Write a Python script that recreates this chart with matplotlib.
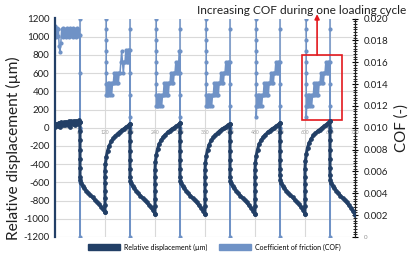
import matplotlib
matplotlib.use("Agg")
import matplotlib.pyplot as plt
from matplotlib.patches import Patch, Rectangle
from matplotlib.ticker import FixedLocator, MultipleLocator

# ---------------- data ----------------
time_ticks = [60, 120, 180, 240, 300, 360, 420, 480, 540, 600, 660, 720]
disp_ticks = [-1200, -1000, -800, -600, -400, -200, 0, 200, 400, 600, 800, 1000, 1200]
cof_ticks = [0, 0.002, 0.004, 0.006, 0.008, 0.010, 0.012, 0.014, 0.016, 0.018, 0.020]
cof_tick_labels = ["0", "0.002", "0.004", "0.006", "0.008", "0.010",
                   "0.012", "0.014", "0.016", "0.018", "0.020"]

# relative displacement (um)
flat_t = [0, 3, 6, 9, 12, 15, 18, 21, 24, 27, 30, 33, 36, 39, 42, 45, 48, 51, 54, 57, 60]
flat_d = [10, 45, 20, 55, 5, 60, 30, 60, 25, 65, 35, 70, 10, 70, 40, 75, 30, 75, 45, 80, 65]

edge_t = [0, 0, 0, 0, 0, 0, 0, 1, 3, 6, 10, 15, 20, 25, 30, 35, 40, 45, 50, 55, 60]

decay_starts = [60, 180, 300, 420, 540, 660]
decay_d = [
    [65, -40, -140, -240, -340, -440, -540, -575, -605, -635, -660, -690, -715, -740, -765, -790, -815, -840, -865, -895, -925],
    [45, -50, -150, -250, -350, -450, -545, -580, -610, -640, -665, -695, -720, -745, -770, -795, -820, -845, -875, -905, -945],
    [50, -50, -150, -250, -350, -450, -540, -580, -610, -640, -665, -695, -720, -745, -770, -795, -820, -850, -880, -910, -950],
    [45, -50, -150, -250, -350, -450, -540, -580, -610, -640, -665, -695, -720, -745, -770, -795, -820, -850, -880, -910, -950],
    [50, -50, -150, -250, -350, -450, -520, -570, -605, -635, -660, -690, -715, -740, -765, -790, -815, -840, -870, -900, -945],
    [70, -40, -140, -240, -340, -440, -520, -575, -605, -635, -660, -690, -715, -745, -770, -795, -820, -850, -880, -915, -955],
]

rise_starts = [120, 240, 360, 480, 600]
rise_d = [
    [-925, -850, -770, -690, -610, -540, -470, -400, -320, -255, -200, -150, -115, -88, -65, -45, -28, -12, 5, 22, 45],
    [-945, -860, -780, -700, -620, -540, -460, -380, -300, -235, -180, -135, -100, -75, -52, -33, -15, 0, 15, 30, 50],
    [-950, -860, -780, -700, -620, -540, -465, -390, -310, -245, -185, -140, -105, -78, -55, -35, -18, -3, 12, 28, 45],
    [-950, -860, -780, -700, -620, -540, -460, -385, -305, -240, -180, -135, -100, -75, -52, -33, -15, 0, 15, 32, 50],
    [-945, -860, -780, -700, -620, -540, -450, -370, -290, -220, -165, -120, -85, -60, -38, -20, -2, 15, 32, 50, 70],
]

# coefficient of friction (-)
cof0_t = [0, 0, 0, 2, 4, 6, 8, 10, 12, 14, 16, 18, 20, 22, 24, 26, 28, 30, 32,
          34, 36, 38, 40, 42, 44, 46, 48, 50, 52, 54, 56, 58]
cof0_v = [0.0215, 0.0204, 0.0193, 0.0183, 0.0191, 0.0184, 0.0190, 0.0175, 0.0169,
          0.0178, 0.0190, 0.0183, 0.0191, 0.0184, 0.0190, 0.0183, 0.0191, 0.0184,
          0.0190, 0.0183, 0.0191, 0.0184, 0.0190, 0.0183, 0.0191, 0.0184, 0.0190,
          0.0183, 0.0191, 0.0184, 0.0190, 0.0185]

load_starts = [120, 240, 360, 480, 600]
entry_offset = 3
entry_v = [
    [0.030, 0.020, 0.019, 0.018, 0.017, 0.016, 0.015, 0.014, 0.013],
    [0.030, 0.020, 0.019, 0.018, 0.017, 0.016, 0.015, 0.014, 0.013, 0.012],
    [0.030, 0.020, 0.019, 0.018, 0.017, 0.016, 0.015, 0.014, 0.013, 0.012],
    [0.030, 0.020, 0.019, 0.018, 0.017, 0.016, 0.015, 0.014, 0.013, 0.012, 0.011],
    [0.030, 0.020, 0.019, 0.018, 0.017, 0.016, 0.015, 0.014, 0.013, 0.012, 0.011],
]
stair_t = [4, 6, 8, 10, 12, 14, 16, 18, 20, 22, 24, 26, 28, 30, 32, 34,
           36, 38, 40, 42, 44, 46, 48, 50, 52, 54, 56, 58]
stair_v = [
    [0.0130, 0.0141, 0.0130, 0.0141, 0.0130, 0.0141, 0.0130, 0.0141,
     0.0141, 0.0150, 0.0141, 0.0150, 0.0141, 0.0150, 0.0141, 0.0150,
     0.0150, 0.0160, 0.0170, 0.0160, 0.0150, 0.0160,
     0.0160, 0.0171, 0.0160, 0.0171, 0.0160, 0.0171],
    [0.0120, 0.0130, 0.0120, 0.0130, 0.0120, 0.0130, 0.0120, 0.0130,
     0.0130, 0.0141, 0.0130, 0.0141, 0.0130, 0.0141, 0.0130, 0.0141,
     0.0141, 0.0150, 0.0141, 0.0150, 0.0141, 0.0150,
     0.0150, 0.0160, 0.0150, 0.0160, 0.0150, 0.0170],
    [0.0120, 0.0130, 0.0120, 0.0130, 0.0120, 0.0130, 0.0120, 0.0130,
     0.0130, 0.0141, 0.0130, 0.0141, 0.0130, 0.0141, 0.0130, 0.0141,
     0.0141, 0.0150, 0.0141, 0.0150, 0.0141, 0.0150,
     0.0150, 0.0160, 0.0150, 0.0160, 0.0150, 0.0160],
    [0.0120, 0.0130, 0.0120, 0.0130, 0.0120, 0.0130, 0.0120, 0.0130,
     0.0130, 0.0141, 0.0130, 0.0141, 0.0130, 0.0141, 0.0130, 0.0141,
     0.0141, 0.0150, 0.0141, 0.0150, 0.0141, 0.0150,
     0.0150, 0.0160, 0.0150, 0.0160, 0.0150, 0.0160],
    [0.0120, 0.0130, 0.0120, 0.0130, 0.0120, 0.0130, 0.0120, 0.0130,
     0.0130, 0.0141, 0.0130, 0.0141, 0.0130, 0.0141, 0.0130, 0.0141,
     0.0141, 0.0150, 0.0141, 0.0150, 0.0141, 0.0150,
     0.0150, 0.0160, 0.0150, 0.0160, 0.0150, 0.0160],
]
exit_times = [60, 180, 300, 420, 540, 660]
exit_v = [
    [0.0185, 0.015, 0.010, 0.005, 0.0, 0.010, 0.020, 0.030],
    [0.0171, 0.015, 0.013, 0.011, 0.0, 0.010, 0.019, 0.030],
    [0.0170, 0.015, 0.013, 0.011, 0.0, 0.010, 0.019, 0.030],
    [0.0160, 0.014, 0.012, 0.010, 0.0, 0.010, 0.019, 0.030],
    [0.0160, 0.014, 0.012, 0.010, 0.0, 0.010, 0.019, 0.030],
    [0.0160, 0.014, 0.012, 0.010, 0.0, 0.010, 0.019, 0.030],
]

# ---------------- assemble series ----------------
disp_x = list(flat_t)
disp_y = list(flat_d)
for i, s in enumerate(decay_starts):
    disp_x += [s + t for t in edge_t]
    disp_y += decay_d[i]
    if i < len(rise_starts):
        disp_x += [rise_starts[i] + t for t in edge_t]
        disp_y += rise_d[i]

cof_x = list(cof0_t) + [exit_times[0]] * len(exit_v[0])
cof_y = list(cof0_v) + exit_v[0]
for i, s in enumerate(load_starts):
    cof_x += [s + entry_offset] * len(entry_v[i])
    cof_y += entry_v[i]
    cof_x += [s + t for t in stair_t]
    cof_y += stair_v[i]
    cof_x += [exit_times[i + 1]] * len(exit_v[i + 1])
    cof_y += exit_v[i + 1]

# ---------------- styling ----------------
DARK = "#223F66"
LIGHT = "#6F92C6"
GRID = "#D9D9D9"
FONT = ["Lato", "DejaVu Sans"]
plt.rcParams["font.family"] = FONT

fig = plt.figure(figsize=(4.18, 2.56), dpi=100)
fig.patch.set_facecolor("white")
L, R, B, T = 55 / 418, 355 / 418, 1 - 237 / 256, 1 - 18.5 / 256
ax1 = fig.add_axes([L, B, R - L, T - B])
ax2 = ax1.twinx()
ax1.set_zorder(ax2.get_zorder() + 1)
ax1.patch.set_visible(False)
ax2.patch.set_visible(False)

ax1.set_xlim(0, 720)
ax1.set_ylim(-1200, 1200)
ax2.set_ylim(0, 0.020)

# gridlines drawn underneath both series (in the lower axes)
for v in disp_ticks:
    ax2.plot([0, 720], [v, v], transform=ax1.transData, color=GRID, lw=0.8, zorder=0)
for v in time_ticks:
    ax2.plot([v, v], [-1200, 1200], transform=ax1.transData, color=GRID, lw=0.8, zorder=0)

# COF series
ax2.plot(cof_x, cof_y, color=LIGHT, lw=1.1, marker="o", ms=2.0, mec=LIGHT,
         mfc=LIGHT, zorder=2)
# displacement series
ax1.plot(disp_x, disp_y, color=DARK, lw=2.2, marker="o", ms=2.4, mec=DARK,
         mfc=DARK, zorder=3, solid_joinstyle="round")

# axes: primary
for sp in ["top", "right"]:
    ax1.spines[sp].set_visible(False)
ax1.spines["bottom"].set_position(("data", 0))
ax1.spines["bottom"].set_visible(False)
ax1.spines["left"].set_color(DARK)
ax1.spines["left"].set_linewidth(1.6)
ax1.xaxis.set_major_locator(FixedLocator(time_ticks))
ax1.set_xticklabels([str(v) for v in time_ticks])
ax1.tick_params(axis="x", length=0, labelsize=3.6, labelcolor="#A0A0A0", pad=1.5)
ax1.yaxis.set_major_locator(FixedLocator(disp_ticks))
ax1.set_yticklabels([str(v) for v in disp_ticks])
ax1.tick_params(axis="y", length=0, labelsize=7, labelcolor="#202020", pad=4)

# axes: secondary
for sp in ["top", "left", "bottom"]:
    ax2.spines[sp].set_visible(False)
ax2.spines["right"].set_color("#202020")
ax2.spines["right"].set_linewidth(0.9)
ax2.yaxis.set_major_locator(FixedLocator(cof_ticks))
ax2.set_yticklabels(cof_tick_labels)
ax2.yaxis.set_minor_locator(MultipleLocator(0.00025))
ax2.tick_params(axis="y", which="major", direction="inout", length=4.5, width=0.8,
                labelsize=7, labelcolor="#202020", pad=4)
ax2.tick_params(axis="y", which="minor", direction="inout", length=2.5, width=0.6)
ax2.get_yticklabels()[0].set_fontsize(4.5)
ax2.get_yticklabels()[0].set_color("#909090")

# axis titles
fig.text(13 / 418, 1 - 148 / 256, "Relative displacement (µm)", rotation=90,
         ha="center", va="center", fontsize=11.2, color="#202020")
fig.text(402 / 418, 1 - 128 / 256, "COF (-)", rotation=90,
         ha="center", va="center", fontsize=10.8, color="#202020")

# annotation
ax2.add_patch(Rectangle((593, 0.01071), 96, 0.01666 - 0.01071, fill=False,
                        ec="#E3191E", lw=1.2, zorder=5))
ax2.annotate("", xy=(629, 0.0204), xytext=(629, 0.01666),
             arrowprops=dict(arrowstyle="-|>", color="#E3191E", lw=1.2,
                             mutation_scale=7, shrinkA=0, shrinkB=0),
             annotation_clip=False, zorder=5)
fig.text(302 / 418, 1 - 10 / 256, "Increasing COF during one loading cycle",
         ha="center", va="center", fontsize=8.6, color="#202020")

# legend
handles = [Patch(facecolor=DARK, edgecolor=DARK), Patch(facecolor=LIGHT, edgecolor=LIGHT)]
fig.legend(handles, ["Relative displacement (µm)", "Coefficient of friction (COF)"],
           loc="center", bbox_to_anchor=(0.513, 0.035), ncol=2, frameon=False,
           fontsize=5, handlelength=4.6, handleheight=0.9, columnspacing=1.6,
           handletextpad=0.6, borderaxespad=0)

fig.savefig("out.png", dpi=100, facecolor="white")
